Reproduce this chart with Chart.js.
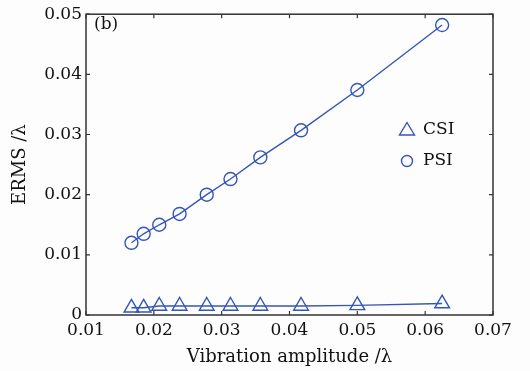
<!DOCTYPE html>
<html>
<head>
<meta charset="utf-8">
<script src="https://cdn.jsdelivr.net/npm/chart.js@4.4.1/dist/chart.umd.min.js"></script>
<style>
body{margin:0;background:#fdfdfd;}
#wrap{width:530px;height:371px;}
</style>
</head>
<body>
<div id="wrap"><canvas id="ermsChart"></canvas></div>
<script>

/* ============================= */
/* DATA */
/* ============================= */

const amplitude = [0.0167,0.0185,0.0208,0.0238,0.0278,0.0313,0.0357,0.0417,0.05,0.0625]
const csiValues = [0.0012,0.0012,0.0015,0.0015,0.0015,0.0015,0.0015,0.0015,0.0016,0.0019]
const psiValues = [0.0120,0.0135,0.0150,0.0168,0.0200,0.0226,0.0262,0.0307,0.0374,0.0482]

const xTickLabels = ["0.01","0.02","0.03","0.04","0.05","0.06","0.07"]
const yTickLabels = ["0","0.01","0.02","0.03","0.04","0.05"]

const blue = "#3556b8"
const serif = "'DejaVu Serif', serif"

function toPoints(xs,ys){
return xs.map((x,i)=>({x:x,y:ys[i]}))
}


/* ============================= */
/* FRAME + INWARD TICKS */
/* ============================= */

const framePlugin = {
id:"frame",
afterDatasetsDraw(chart){

const {ctx,chartArea:a,scales} = chart
const len = 4

ctx.save()
ctx.strokeStyle="#333"
ctx.lineWidth=1.5
ctx.strokeRect(a.left,a.top,a.right-a.left,a.bottom-a.top)

ctx.lineWidth=1.2
ctx.beginPath()

scales.x.ticks.forEach(t=>{
const px = scales.x.getPixelForValue(t.value)
ctx.moveTo(px,a.bottom); ctx.lineTo(px,a.bottom-len)
ctx.moveTo(px,a.top); ctx.lineTo(px,a.top+len)
})

scales.y.ticks.forEach(t=>{
const py = scales.y.getPixelForValue(t.value)
ctx.moveTo(a.left,py); ctx.lineTo(a.left+len,py)
ctx.moveTo(a.right,py); ctx.lineTo(a.right-len,py)
})

ctx.stroke()
ctx.restore()

}
}


/* ============================= */
/* LEGEND + PANEL LABEL */
/* ============================= */

const legendPlugin = {
id:"innerLegend",
afterDraw(chart){

const ctx = chart.ctx
const x0 = 407, tx = 423

ctx.save()
ctx.font="17px "+serif
ctx.fillStyle="#111"
ctx.textBaseline="middle"
ctx.textAlign="left"

ctx.fillText("(b)",94,25)

ctx.strokeStyle=blue
ctx.lineWidth=1.4

// triangle
ctx.beginPath()
ctx.moveTo(x0,122.5)
ctx.lineTo(x0+7.5,135)
ctx.lineTo(x0-7.5,135)
ctx.closePath()
ctx.stroke()
ctx.fillText(chart.data.datasets[0].label,tx,130)

// circle
ctx.beginPath()
ctx.arc(x0,161,5.5,0,Math.PI*2)
ctx.stroke()
ctx.fillText(chart.data.datasets[1].label,tx,161)

ctx.restore()

}
}


/* ============================= */
/* CHART */
/* ============================= */

const ermsChart = new Chart(
document.getElementById("ermsChart"),
{
type:"scatter",

data:{
datasets:[
{
label:"CSI",
data:toPoints(amplitude,csiValues),
showLine:true,
borderColor:blue,
backgroundColor:"rgba(0,0,0,0)",
borderWidth:1.4,
pointStyle:"triangle",
pointRadius:8.5,
pointBorderWidth:1.4,
pointBorderColor:blue,
pointBackgroundColor:"rgba(0,0,0,0)"
},
{
label:"PSI",
data:toPoints(amplitude,psiValues),
showLine:true,
borderColor:blue,
backgroundColor:"rgba(0,0,0,0)",
borderWidth:1.4,
pointStyle:"circle",
pointRadius:6.5,
pointBorderWidth:1.4,
pointBorderColor:blue,
pointBackgroundColor:"rgba(0,0,0,0)"
}
]
},

plugins:[framePlugin,legendPlugin],

options:{
animation:false,
responsive:true,
maintainAspectRatio:false,
layout:{padding:{left:0,top:13,right:37,bottom:0}},

plugins:{
legend:{display:false},
tooltip:{enabled:false}
},

scales:{
x:{
type:"linear",
min:0.01,
max:0.07,
afterFit(scale){ scale.height=56 },
grid:{display:false,drawTicks:false},
border:{display:false},
ticks:{
stepSize:0.01,
padding:5,
color:"#111",
font:{family:serif,size:17},
maxRotation:0,
callback:(v,i)=>xTickLabels[i]
},
title:{
display:true,
text:"Vibration amplitude /\u03bb",
color:"#111",
font:{family:serif,size:18},
padding:{bottom:3,top:0}
}
},
y:{
type:"linear",
min:0,
max:0.05,
afterFit(scale){ scale.width=86 },
grid:{display:false,drawTicks:false},
border:{display:false},
ticks:{
stepSize:0.01,
padding:4,
color:"#111",
font:{family:serif,size:17},
callback:(v,i)=>yTickLabels[i]
},
title:{
display:true,
text:"ERMS /\u03bb",
color:"#111",
font:{family:serif,size:18},
padding:{top:10,bottom:0}
}
}
}
}
});

</script>
</body>
</html>
